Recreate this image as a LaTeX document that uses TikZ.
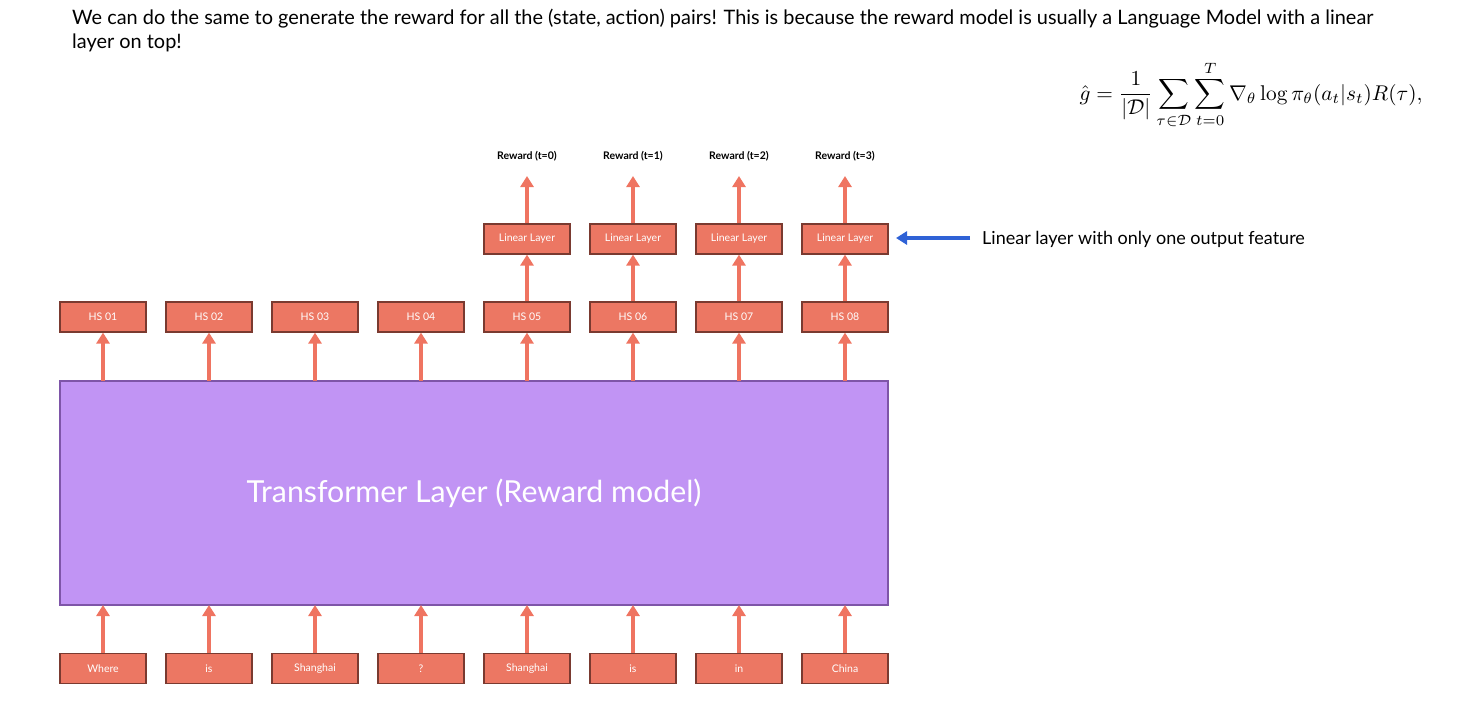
\documentclass[tikz,border=0pt]{standalone}
\usepackage{amsmath}
\usepackage[no-math]{fontspec}
\setmainfont{Lato}
\usetikzlibrary{arrows.meta}
\definecolor{boxfill}{HTML}{EC7763}
\definecolor{boxdraw}{HTML}{7A3A30}
\definecolor{arr}{HTML}{EF7461}
\definecolor{purp}{HTML}{C194F4}
\definecolor{purpd}{HTML}{7E55A8}
\definecolor{bluearr}{HTML}{2F62D6}
\tikzset{
  box/.style={draw=boxdraw, line width=1.2pt, fill=boxfill, minimum width=86pt, minimum height=30pt, inner sep=0pt, text=white, font=\fontsize{10.5}{11}\selectfont},
  rew/.style={font=\fontsize{10.5}{11}\selectfont\bfseries, text=black, inner sep=0pt},
  up/.style={draw=arr, line width=3.5pt, -{Triangle[width=13pt,length=11pt]}},
}
\begin{document}
\begin{tikzpicture}[x=1pt,y=-1pt]
\useasboundingbox (0,0) rectangle (1461,705);
% top text
\node[anchor=west, inner sep=0pt, font=\fontsize{19.9}{22}\selectfont] (t1) at (72,19) {We can do the same to generate the reward for all the (state, action) pairs! This is because the reward model is usually a Language Model with a linear};
\node[anchor=west, inner sep=0pt, font=\fontsize{19.9}{22}\selectfont] (t2) at (72,43) {layer on top!};
% formula
\node[inner sep=0pt] (eq) at (1251,95) {\resizebox{343pt}{!}{$\displaystyle \hat{g} = \frac{1}{|\mathcal{D}|}\sum_{\tau\in\mathcal{D}}\sum_{t=0}^{T}\nabla_{\theta}\log\pi_{\theta}(a_t|s_t)R(\tau),$}};
% transformer
\node[draw=purpd, line width=1.2pt, fill=purp, minimum width=828pt, minimum height=224pt, inner sep=0pt, text=white, font=\fontsize{30.3}{34}\selectfont] (tf) at (474,493) {Transformer Layer (Reward model)};
% boxes
\foreach \i/\w/\x in {1/Where/103, 2/is/209, 3/Shanghai/315, 4/?/421, 5/Shanghai/527, 6/is/633, 7/in/739, 8/China/845}{
  \node[box] (in\i) at (\x,668.5) {\w};
  \node[box] (hs\i) at (\x,317) {HS 0\i};
  \coordinate (tb\i) at (\x,605);
  \coordinate (tt\i) at (\x,381);
  \draw[up] (in\i.north) -- (tb\i);
  \draw[up] (tt\i) -- (hs\i.south);
}
\foreach \i/\t/\x in {5/0/527, 6/1/633, 7/2/739, 8/3/845}{
  \node[box] (ll\i) at (\x,239) {Linear Layer};
  \node[rew] (rw\i) at (\x,156) {Reward (t=\t)};
  \coordinate (re\i) at (\x,176);
  \draw[up] (hs\i.north) -- (ll\i.south);
  \draw[up] (ll\i.north) -- (re\i);
}
% blue annotation
\node[anchor=west, inner sep=0pt, font=\fontsize{18}{20}\selectfont] (note) at (982,239) {Linear layer with only one output feature};
\coordinate (bs) at (970,238);
\coordinate (be) at (896,238);
\draw[draw=bluearr, line width=3.5pt, -{Triangle[width=13pt,length=11pt]}] (bs) -- (be);
\end{tikzpicture}
\end{document}
